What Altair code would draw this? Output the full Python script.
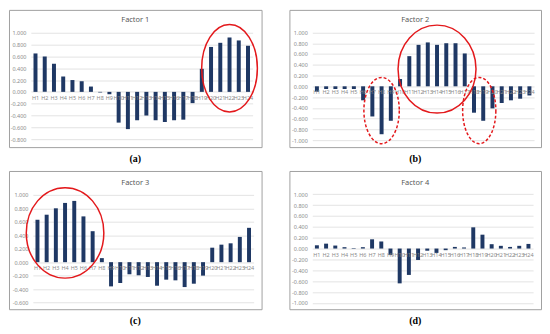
import altair as alt
import pandas as pd

hours = ["H1", "H2", "H3", "H4", "H5", "H6", "H7", "H8", "H9", "H10", "H11", "H12",
         "H13", "H14", "H15", "H16", "H17", "H18", "H19", "H20", "H21", "H22", "H23", "H24"]

factor1 = [0.65, 0.60, 0.475, 0.26, 0.20, 0.18, 0.09, -0.01, -0.04, -0.52, -0.63, -0.48,
           -0.40, -0.48, -0.51, -0.48, -0.47, -0.19, 0.39, 0.76, 0.83, 0.92, 0.87, 0.78]
factor2 = [-0.10, -0.05, -0.05, -0.05, -0.05, -0.26, -0.56, -0.89, -0.64, 0.135, 0.56, 0.77,
           0.815, 0.77, 0.80, 0.80, 0.61, -0.49, -0.64, -0.41, -0.31, -0.26, -0.23, -0.17]
factor3 = [0.63, 0.705, 0.80, 0.88, 0.91, 0.68, 0.46, 0.06, -0.36, -0.31, -0.18, -0.195,
           -0.22, -0.35, -0.26, -0.27, -0.37, -0.32, -0.20, 0.215, 0.26, 0.28, 0.375, 0.51]
factor4 = [0.06, 0.09, 0.055, 0.025, -0.01, 0.025, 0.17, 0.13, -0.12, -0.64, -0.485, -0.21,
           -0.04, -0.08, -0.03, 0.03, 0.02, 0.39, 0.255, 0.08, 0.05, 0.03, 0.05, 0.085]

ticks1 = [-0.8, -0.6, -0.4, -0.2, 0.0, 0.2, 0.4, 0.6, 0.8, 1.0]
ticks2 = [-1.0, -0.8, -0.6, -0.4, -0.2, 0.0, 0.2, 0.4, 0.6, 0.8, 1.0]
ticks3 = [-0.6, -0.4, -0.2, 0.0, 0.2, 0.4, 0.6, 0.8, 1.0]
ticks4 = [-1.0, -0.8, -0.6, -0.4, -0.2, 0.0, 0.2, 0.4, 0.6, 0.8, 1.0]

titles = ["Factor 1", "Factor 2", "Factor 3", "Factor 4"]
captions = ["(a)", "(b)", "(c)", "(d)"]

# highlighted groups: (hour at centre, value at centre, rx, ry, dashed, x shift)
marks1 = [("H22", 0.40, 28, 44, False, 0)]
marks2 = [("H14", 0.32, 39.2, 44.2, False, 0),
          ("H8", -0.45, 17.8, 33.3, True, 0),
          ("H19", -0.45, 16.7, 33.3, True, -2)]
marks3 = [("H4", 0.435, 39, 45.5, False, 0)]
marks4 = []

NAVY = "#1f3864"
RED = "#e3191c"
GRID = "#d9d9d9"
LABEL = "#8a8a8a"
FONT = "Noto Sans"


def ellipse_path(rx, ry):
    r = max(rx, ry)
    a, b, k = rx / r, ry / r, 0.5523
    f = lambda v: f"{v:.4f}"
    return (f"M{f(a)},0 C{f(a)},{f(k*b)} {f(k*a)},{f(b)} 0,{f(b)} "
            f"C{f(-k*a)},{f(b)} {f(-a)},{f(k*b)} {f(-a)},0 "
            f"C{f(-a)},{f(-k*b)} {f(-k*a)},{f(-b)} 0,{f(-b)} "
            f"C{f(k*a)},{f(-b)} {f(a)},{f(-k*b)} {f(a)},0 Z"), (2 * r) ** 2


def panel(values, ticks, dom, xr, yr, w, h, title, title_y, caption, marks):
    df = pd.DataFrame({"h": hours, "v": values})
    xenc = alt.X("h:N", scale=alt.Scale(domain=hours, range=xr, paddingInner=0.57,
                                         paddingOuter=0.285), axis=None)
    yenc = alt.Y("v:Q",
                 scale=alt.Scale(domain=dom, range=yr, nice=False),
                 axis=alt.Axis(values=ticks, orient="left", offset=-xr[0],
                               labelExpr="replace(format(datum.value, '.3f'), '\u2212', '-')",
                               domain=False, ticks=False, grid=True, gridColor=GRID,
                               gridWidth=0.75, labelFontSize=5.5, labelColor=LABEL,
                               labelFont=FONT, labelPadding=5, minExtent=0, title=None))
    bars = alt.Chart(df).mark_bar(color=NAVY).encode(x=xenc, y=yenc)
    labels = (alt.Chart(df).transform_calculate(v="0")
              .mark_text(fontSize=5.5, color=LABEL, font=FONT, dy=6, baseline="middle")
              .encode(x=xenc, y=yenc, text="h:N"))
    ttl = (alt.Chart(pd.DataFrame({"t": [title]}))
           .mark_text(fontSize=7.5, color="#595959", font=FONT, baseline="middle")
           .encode(x=alt.value(w / 2), y=alt.value(title_y), text="t:N"))
    layers = [bars, labels, ttl]
    for hr, val, rx, ry, dashed, shift in marks:
        path, size = ellipse_path(rx, ry)
        kw = dict(shape=path, size=size, filled=False, stroke=RED, strokeWidth=1.5,
                  opacity=1)
        if dashed:
            kw["strokeDash"] = [3, 2]
        enc = dict(x=xenc, y=yenc)
        if shift:
            enc["xOffset"] = alt.value(shift)
        layers.append(alt.Chart(pd.DataFrame({"h": [hr], "v": [val]}))
                      .mark_point(**kw).encode(**enc))
    return alt.layer(*layers).properties(
        width=w, height=h,
        title=alt.TitleParams(caption, orient="bottom", offset=7, fontSize=10,
                              font="Liberation Serif", fontWeight="bold",
                              color="black", anchor="middle"))


pa = panel(factor1, ticks1, [-0.8, 1.0], [22, 245], [130, 23], 254, 138,
           titles[0], 10, captions[0], marks1)
pb = panel(factor2, ticks2, [-1.0, 1.0], [23, 246], [131, 22.7], 253, 138,
           titles[1], 10, captions[1], marks2)
pc = panel(factor3, ticks3, [-0.6, 1.0], [24, 246], [132.3, 24], 254, 139,
           titles[2], 12, captions[2], marks3)
pd_ = panel(factor4, ticks4, [-1.0, 1.0], [23, 245], [132.7, 23.3], 253, 139,
            titles[3], 12, captions[3], marks4)

chart = alt.vconcat(
    alt.hconcat(pa, pb, spacing=26),
    alt.hconcat(pc, pd_, spacing=26),
    spacing=5,
).configure_view(stroke="#a0a0a0", strokeWidth=1).properties(
    padding=0, background="white")

chart.save("out.html", embed_options={"renderer": "svg", "actions": False})
